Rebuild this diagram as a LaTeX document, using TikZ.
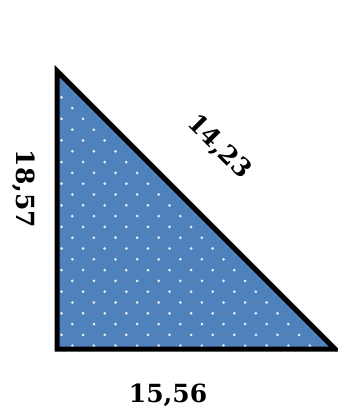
\documentclass[tikz,border=0pt]{standalone}
\usepackage{fontspec}
\setmainfont{DejaVu Serif}
\definecolor{triblue}{HTML}{4F81BD}
\begin{document}
\begin{tikzpicture}[x=1pt,y=-1pt,
  lbl/.style={font=\bfseries\fontsize{25}{25}\selectfont, inner sep=0pt},
  dot/.style={fill=white, draw=none}]
\useasboundingbox (0,0) rectangle (337,411);
\coordinate (A) at (57,71);
\coordinate (B) at (57,349);
\coordinate (C) at (335,349);
\fill[triblue] (A) -- (B) -- (C) -- cycle;
\begin{scope}
  \clip (A) -- (B) -- (C) -- cycle;
  \foreach \k in {-18,...,8} {
    \pgfmathsetmacro{\yy}{259.3+10.8*\k}
    \pgfmathsetmacro{\xo}{isodd(\k) ? -10.8 : 0}
    \foreach \m in {-1,...,13} {
      \fill[dot, opacity=0.85] (72.3+21.6*\m+\xo, \yy) circle (1.5);
    }
  }
\end{scope}
\draw[line width=5pt, line join=miter] (A) -- (B) -- (C) -- cycle;
\node[lbl] (bot) at (168,395) {15,56};
\node[lbl, rotate=-90] (left) at (24,189) {18,57};
\node[lbl, rotate=-45] (hyp) at (219,147) {14,23};
\end{tikzpicture}
\end{document}
